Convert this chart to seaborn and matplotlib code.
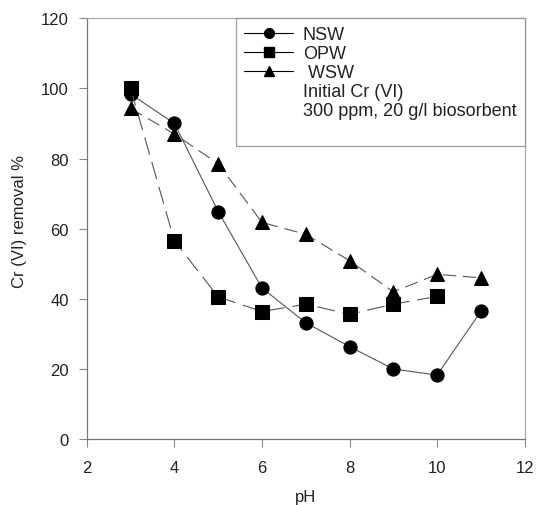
import pandas as pd
import matplotlib
matplotlib.use("Agg")
import matplotlib.pyplot as plt
from matplotlib.lines import Line2D
import seaborn as sns

# pH values and removal (%)
ph_nsw = [3, 4, 5, 6, 7, 8, 9, 10, 11]
nsw = [98.4, 90.0, 64.9, 43.1, 33.2, 26.4, 20.0, 18.3, 36.5]

ph_opw = [3, 4, 5, 6, 7, 8, 9, 10]
opw = [100.0, 56.5, 40.6, 36.4, 38.5, 35.6, 38.5, 40.7]

ph_wsw = [3, 4, 5, 6, 7, 8, 9, 10, 11]
wsw = [94.3, 87.0, 78.5, 61.8, 58.4, 50.9, 42.0, 47.0, 46.0]

series_names = ["NSW", "OPW", "WSW"]
note_lines = ["Initial Cr (VI)", "300 ppm, 20 g/l biosorbent"]

df = pd.concat([
    pd.DataFrame({"pH": ph_nsw, "removal": nsw, "sorbent": "NSW"}),
    pd.DataFrame({"pH": ph_opw, "removal": opw, "sorbent": "OPW"}),
    pd.DataFrame({"pH": ph_wsw, "removal": wsw, "sorbent": "WSW"}),
], ignore_index=True)

sns.set_style("white")
plt.rcParams["font.family"] = ["Liberation Sans", "DejaVu Sans"]

fig = plt.figure(figsize=(5.36, 5.06), dpi=100)
ax = fig.add_axes([0.162, 0.130, 0.817, 0.832])

markers = {"NSW": "o", "OPW": "s", "WSW": "^"}
dashes = {"NSW": "", "OPW": (16, 7), "WSW": (12, 6)}

sns.lineplot(data=df, x="pH", y="removal", hue="sorbent", style="sorbent",
             palette={k: "black" for k in series_names},
             markers=markers, dashes=dashes, markersize=9.5,
             linewidth=0.8, legend=False, ax=ax)
for ln in ax.lines:
    ln.set_color("#555555")
    ln.set_markerfacecolor("black")
    ln.set_markeredgecolor("black")

ax.set_xlim(2, 12)
ax.set_ylim(0, 120)
ax.set_xticks([2, 4, 6, 8, 10, 12])
ax.set_yticks([0, 20, 40, 60, 80, 100, 120])
ax.tick_params(direction="out", length=6, width=0.8, colors="#888888",
               labelcolor="#222222", labelsize=12, pad=7,
               bottom=True, left=True)
ax.tick_params(axis="x", pad=9)
for s in ["left", "bottom"]:
    ax.spines[s].set_color("#777777")
    ax.spines[s].set_linewidth(0.9)
for s in ["top", "right"]:
    ax.spines[s].set_color("#aaaaaa")
    ax.spines[s].set_linewidth(0.9)

ax.set_xlabel("pH", fontsize=12, color="#222222")
ax.set_ylabel("Cr (VI) removal %", fontsize=12, color="#222222")
ax.xaxis.set_label_coords(0.5, -0.119)
ax.yaxis.set_label_coords(-0.136, 0.52)

handles = [Line2D([], [], color="black", linewidth=0.8, marker=markers[n],
                  markersize=7) for n in series_names]
handles += [Line2D([], [], linestyle="none") for _ in note_lines + [""]]
labels = ["NSW", "OPW", " WSW"] + note_lines + [""]
leg = ax.legend(handles, labels, loc="upper right", bbox_to_anchor=(1.0, 1.0),
                fontsize=13, frameon=True, fancybox=False, handlelength=2.7,
                borderpad=0.45, labelspacing=0.1, handletextpad=0.55,
                borderaxespad=0.0)
leg.get_frame().set_edgecolor("#888888")
leg.get_frame().set_linewidth(0.9)
for t in leg.get_texts():
    t.set_color("#222222")

fig.savefig("out.png", dpi=100)
